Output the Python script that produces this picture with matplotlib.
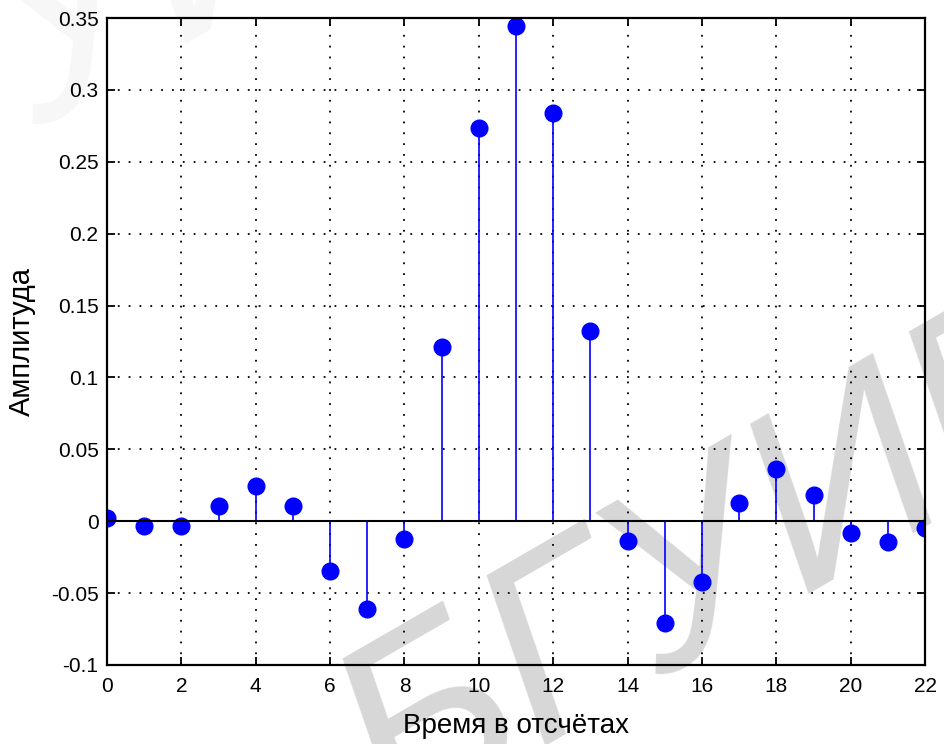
import numpy as np
import matplotlib
matplotlib.use('Agg')
import matplotlib.pyplot as plt

plt.rcParams['font.family'] = ['Liberation Sans', 'DejaVu Sans']

# samples
n = list(range(23))
amp = [0.0023, -0.003, -0.003, 0.0103, 0.0244, 0.0103, -0.0344, -0.061, -0.0123,
       0.1215, 0.2738, 0.3447, 0.2838, 0.132, -0.0135, -0.071, -0.0426, 0.0128,
       0.0365, 0.0182, -0.0081, -0.0147, -0.0047]
xticks = list(range(0, 23, 2))
yticks = [-0.1, -0.05, 0, 0.05, 0.1, 0.15, 0.2, 0.25, 0.3, 0.35]
ytick_labels = ['-0.1', '-0.05', '0', '0.05', '0.1', '0.15', '0.2', '0.25', '0.3', '0.35']

fig = plt.figure(figsize=(9.44, 7.44), dpi=100)
ax = fig.add_axes([0.1133, 0.1062, 0.8667, 0.8696])
ax.set_facecolor('none')

# faint watermark behind the plot
fig.text(0.76, 0.24, 'БГУИР', fontsize=185, color='#d7d7d7', rotation=30,
         ha='center', va='center', zorder=-1, style='italic')
fig.text(0.10, 0.98, 'БГУИР', fontsize=185, color='#f7f7f7', rotation=30,
         ha='center', va='center', zorder=-1, style='italic')

markerline, stemlines, baseline = ax.stem(n, amp, linefmt='b-', markerfmt='bo', basefmt='k-')
plt.setp(markerline, markersize=12, color=(0, 0, 1))
plt.setp(stemlines, linewidth=1.2, color=(0, 0, 1))
plt.setp(baseline, linewidth=1.5, color='black')

ax.set_xlim(0, 22)
ax.set_ylim(-0.1, 0.35)
ax.set_xticks(xticks)
ax.set_yticks(yticks)
ax.set_yticklabels(ytick_labels)
ax.grid(True, color='black', linestyle=(0, (1, 5)), linewidth=1.3)
ax.tick_params(direction='in', length=6, width=1.3, top=True, right=True, labelsize=15)
ax.tick_params(axis='x', pad=9)
ax.tick_params(axis='y', pad=6)
for s in ax.spines.values():
    s.set_linewidth(1.6)

ax.set_xlabel('Время в отсчётах', fontsize=20, labelpad=12)
ax.set_ylabel('Амплитуда', fontsize=21, labelpad=11)

fig.savefig('out.png', dpi=100)
